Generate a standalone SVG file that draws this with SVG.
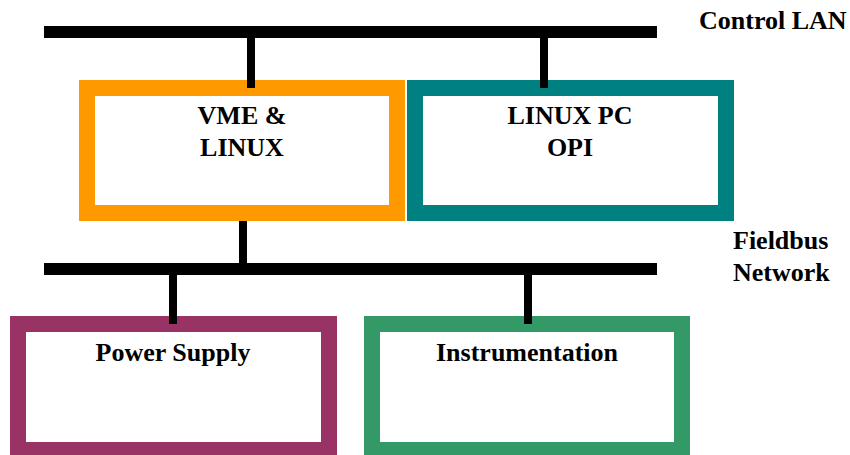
<svg xmlns="http://www.w3.org/2000/svg" width="850" height="455" viewBox="0 0 850 455">
<style>
text{font-family:"Liberation Serif","Times New Roman",serif;font-weight:bold;font-size:26px;fill:#000}
.c{text-anchor:middle}
.box{fill:#fff;stroke-width:16}
.bar{fill:#000}
</style>
<rect width="850" height="455" fill="#fff"/>
<g id="connectors">
<rect class="bar" x="44" y="26" width="613" height="12"/>
<rect class="bar" x="44" y="263" width="613" height="12"/>
<rect class="bar" x="247" y="38" width="8" height="50"/>
<rect class="bar" x="540" y="38" width="8" height="50"/>
<rect class="bar" x="239" y="213" width="8" height="51"/>
<rect class="bar" x="169" y="275" width="8" height="49"/>
<rect class="bar" x="524" y="275" width="8" height="49"/>
</g>
<g id="labels">
<text x="699" y="29">Control LAN</text>
<text x="733" y="249">Fieldbus</text>
<text x="733" y="281">Network</text>
</g>
<g id="vme">
<rect class="box" x="87" y="88" width="310" height="125" stroke="#FF9900"/>
<text class="c" x="242" y="124">VME &amp;</text>
<text class="c" x="242" y="156">LINUX</text>
</g>
<rect class="bar" x="247" y="80" width="8" height="8"/>
<g id="linuxpc">
<rect class="box" x="415" y="88" width="311" height="125" stroke="#008080"/>
<text class="c" x="570" y="124">LINUX PC</text>
<text class="c" x="570" y="156">OPI</text>
</g>
<rect class="bar" x="540" y="80" width="8" height="8"/>
<g id="power">
<rect class="box" x="18" y="324" width="311" height="126" stroke="#993366"/>
<text class="c" x="173" y="361">Power Supply</text>
</g>
<rect class="bar" x="169" y="316" width="8" height="8"/>
<g id="instr">
<rect class="box" x="372" y="324" width="310" height="126" stroke="#339966"/>
<text class="c" x="527" y="361">Instrumentation</text>
</g>
<rect class="bar" x="524" y="316" width="8" height="8"/>
</svg>
